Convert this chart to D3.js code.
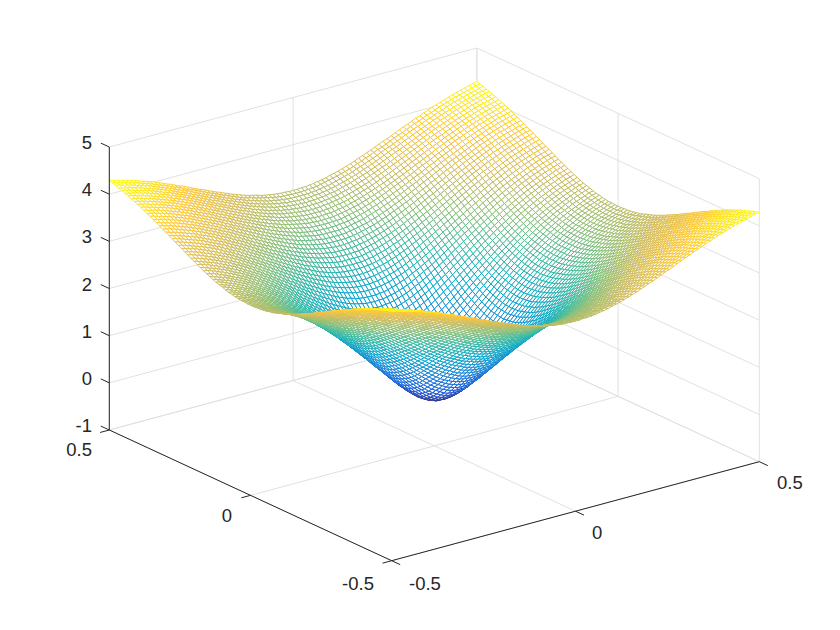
<!DOCTYPE html><html><head><meta charset="utf-8"><style>html,body{margin:0;background:#fff}svg{display:block}text{font-family:"Liberation Sans",Arial,sans-serif;font-size:18.5px;fill:#262626}</style></head><body><svg id="c" width="840" height="630"></svg>
<script src="https://cdn.jsdelivr.net/npm/d3@7"></script>
<script>
// The surface looks symmetric, so one octant is stored: zRows[a][b] is the height a and b grid steps from the centre, b <= a.
const zRows=[
[0],
[1,2],
[4,4,7],
[8,9,11,15],
[13,14,16,20,25],
[20,21,23,26,31,37],
[28,28,30,34,38,43,49],
[36,37,38,41,46,51,56,63],
[45,45,47,50,54,58,64,70,77],
[54,54,56,59,62,67,72,77,84,91],
[63,64,65,68,71,75,80,85,91,98,105],
[73,73,75,77,80,84,88,93,99,105,112,119],
[82,83,84,86,89,93,97,102,107,113,119,126,132],
[92,92,93,95,98,102,106,110,115,121,127,133,139,146],
[101,102,103,105,107,110,114,119,123,129,134,140,146,153,159],
[111,111,112,114,116,119,123,127,132,137,142,148,154,160,166,173],
[120,121,121,123,125,128,132,136,140,145,150,155,161,167,173,179,185],
[129,130,131,132,134,137,140,144,148,153,157,163,168,174,180,186,192,198],
[138,139,140,141,143,146,149,152,156,161,165,170,175,181,187,192,198,204,211],
[147,148,148,150,152,154,157,160,164,168,173,178,183,188,193,199,205,211,217,223],
[156,156,157,158,160,163,165,169,172,176,181,185,190,195,200,206,211,217,223,229,234],
[165,165,166,167,169,171,174,177,180,184,188,192,197,202,207,212,218,223,229,235,240,246],
[173,173,174,175,177,179,182,184,188,191,195,200,204,209,214,219,224,230,235,241,246,252,257],
[181,181,182,183,185,187,189,192,195,199,203,207,211,216,221,226,231,236,241,246,252,257,263,268],
[189,189,190,191,193,195,197,200,203,206,210,214,218,223,227,232,237,242,247,252,258,263,268,273,279],
[197,197,198,199,200,202,204,207,210,213,217,221,225,229,234,238,243,248,253,258,263,268,274,279,284,289],
[204,205,205,206,208,209,212,214,217,220,224,227,231,236,240,245,249,254,259,264,269,274,279,284,289,294,299],
[212,212,212,213,215,217,219,221,224,227,230,234,238,242,246,251,255,260,265,269,274,279,284,289,294,299,304,309],
[219,219,220,220,222,224,226,228,231,234,237,240,244,248,252,257,261,266,270,275,280,285,289,294,299,304,309,313,318],
[226,226,226,227,229,230,232,235,237,240,243,247,250,254,258,262,267,271,276,280,285,290,294,299,304,309,313,318,323,327],
[232,232,233,234,235,237,239,241,243,246,249,253,256,260,264,268,272,277,281,286,290,295,299,304,309,313,318,323,327,331,336],
[239,239,239,240,241,243,245,247,250,252,255,259,262,266,270,274,278,282,286,291,295,300,304,309,313,318,323,327,331,336,340,344],
[245,245,245,246,248,249,251,253,255,258,261,264,268,271,275,279,283,287,291,296,300,305,309,314,318,323,327,331,336,340,344,348,352],
[251,251,251,252,253,255,257,259,261,264,267,270,273,277,280,284,288,292,296,301,305,309,314,318,322,327,331,336,340,344,348,352,356,360],
[256,257,257,258,259,260,262,264,267,269,272,275,278,282,285,289,293,297,301,305,309,314,318,322,327,331,335,340,344,348,352,356,360,364,368],
[262,262,263,263,264,266,268,270,272,274,277,280,283,287,290,294,298,302,306,310,314,318,322,327,331,335,339,344,348,352,356,360,364,368,371,375],
[267,267,268,268,270,271,273,275,277,279,282,285,288,291,295,298,302,306,310,314,318,322,326,331,335,339,343,347,352,356,360,364,367,371,375,378,382],
[272,272,273,273,274,276,277,279,282,284,287,289,293,296,299,303,306,310,314,318,322,326,330,335,339,343,347,351,355,359,363,367,371,374,378,382,385,388],
[277,277,277,278,279,281,282,284,286,288,291,294,297,300,303,307,311,314,318,322,326,330,334,338,342,347,351,355,359,363,367,370,374,378,381,385,388,391,394],
[281,281,282,283,284,285,287,288,290,293,295,298,301,304,307,311,315,318,322,326,330,334,338,342,346,350,354,358,362,366,370,374,377,381,384,388,391,394,397,400],
[286,286,286,287,288,289,291,292,295,297,299,302,305,308,311,315,318,322,326,329,333,337,341,345,349,353,357,361,365,369,373,377,380,384,387,391,394,397,400,403,406],
[289,290,290,291,292,293,295,296,298,301,303,306,309,312,315,318,322,325,329,333,337,341,345,348,352,356,360,364,368,372,376,379,383,387,390,393,397,400,403,406,408,411],
[293,293,294,295,295,297,298,300,302,304,307,309,312,315,318,322,325,329,332,336,340,344,348,351,355,359,363,367,371,375,378,382,386,389,393,396,399,402,405,408,411,413,416],
[297,297,297,298,299,300,302,303,305,308,310,313,315,318,322,325,328,332,335,339,343,347,350,354,358,362,366,370,374,377,381,385,388,392,395,398,402,405,408,410,413,416,418,420],
[300,300,301,301,302,303,305,307,309,311,313,316,318,321,324,328,331,335,338,342,346,349,353,357,361,365,368,372,376,380,383,387,391,394,397,401,404,407,410,413,415,418,420,423,425],
[303,303,304,304,305,306,308,309,311,314,316,318,321,324,327,330,334,337,341,344,348,352,356,359,363,367,371,375,378,382,386,389,393,396,400,403,406,409,412,415,417,420,422,425,427,429]
];
const gridSteps=d3.range(-45,46);
const xyTicks=[-0.5,0,0.5];
const zTicks=[-1,0,1,2,3,4,5];
const zHeight=(r,c)=>{const a=Math.abs(r),b=Math.abs(c);return zRows[Math.max(a,b)][Math.min(a,b)]/100};
const coord=d3.scaleLinear().domain([-45,45]).range([-0.5,0.5]);
const X=gridSteps.map(coord), Zm=gridSteps.map(r=>gridSteps.map(c=>zHeight(r,c)));
// Projection of the MATLAB view: each data axis is a scale giving its screen offset
const xToSx=d3.scaleLinear().domain([-.5,.5]).range([-183.8,183.8]), xToSy=d3.scaleLinear().domain([-.5,.5]).range([49.5,-49.5]);
const yToSx=d3.scaleLinear().domain([-.5,.5]).range([141.2,-141.2]), yToSy=d3.scaleLinear().domain([-.5,.5]).range([65.35,-65.35]);
const zToSy=d3.scaleLinear().domain([-1,5]).range([0,-283]);
const px=(x,y)=>434.3+xToSx(x)+yToSx(y);
const py=(x,y,z)=>445.85+xToSy(x)+yToSy(y)+zToSy(z);
const svg=d3.select('#c');
const zMax=d3.max(Zm.flat());
const color=d3.scaleLinear().domain(d3.range(9).map(i=>i/8*zMax)).range(["#352a87","#0f5cdd","#1481d6","#06a4ca","#2eb7a4","#87bf77","#d1bb59","#fec832","#f9fb0e"]);
const ln=(a,b,c)=>svg.append('line').attr('x1',px(a[0],a[1])).attr('y1',py(...a)).attr('x2',px(b[0],b[1])).attr('y2',py(...b)).attr('stroke',c).attr('stroke-width',1);
const gc='#e1e1e1',ak='#262626';
xyTicks.forEach(v=>{ln([v,-.5,-1],[v,.5,-1],gc);ln([-.5,v,-1],[.5,v,-1],gc);ln([v,.5,-1],[v,.5,5],gc);ln([.5,v,-1],[.5,v,5],gc)});
zTicks.forEach(v=>{ln([-.5,.5,v],[.5,.5,v],gc);ln([.5,.5,v],[.5,-.5,v],gc)});
// Mesh, far cells first, so the white cell faces hide what lies behind them
const cells=[];
for(let j=X.length-2;j>=0;j--)for(let i=X.length-2;i>=0;i--)cells.push([[i,j],[i+1,j],[i+1,j+1],[i,j+1]]);
const path=d3.line().x(([a,b])=>px(X[a],X[b])).y(([a,b])=>py(X[a],X[b],Zm[b][a]));
svg.append('g').selectAll('path').data(cells).join('path')
 .attr('d',p=>path(p)+'Z').attr('fill','#fff').attr('stroke-width',.95)
 .attr('stroke',p=>color(d3.mean(p,([a,b])=>Zm[b][a])));
ln([-.5,.5,-1],[-.5,.5,5],ak);ln([-.5,.5,-1],[-.5,-.5,-1],ak);ln([-.5,-.5,-1],[.5,-.5,-1],ak);
zTicks.forEach(v=>ln([-.5,.5,v],[-.5,.53,v],ak));
xyTicks.forEach(v=>{ln([-.5,v,-1],[-.525,v,-1],ak);ln([v,-.5,-1],[v,-.53,-1],ak)});
const t=(x,y,s,a)=>svg.append('text').attr('x',x).attr('y',y).attr('text-anchor',a).text(s);
zTicks.forEach(v=>t(92,py(-.5,.5,v)+2,v,'end'));
t(92,456,'0.5','end');t(232,522,'0','end');t(374,590,'-0.5','end');
t(409,590,'-0.5','start');t(592,539,'0','start');t(777,489,'0.5','start');
</script></body></html>
